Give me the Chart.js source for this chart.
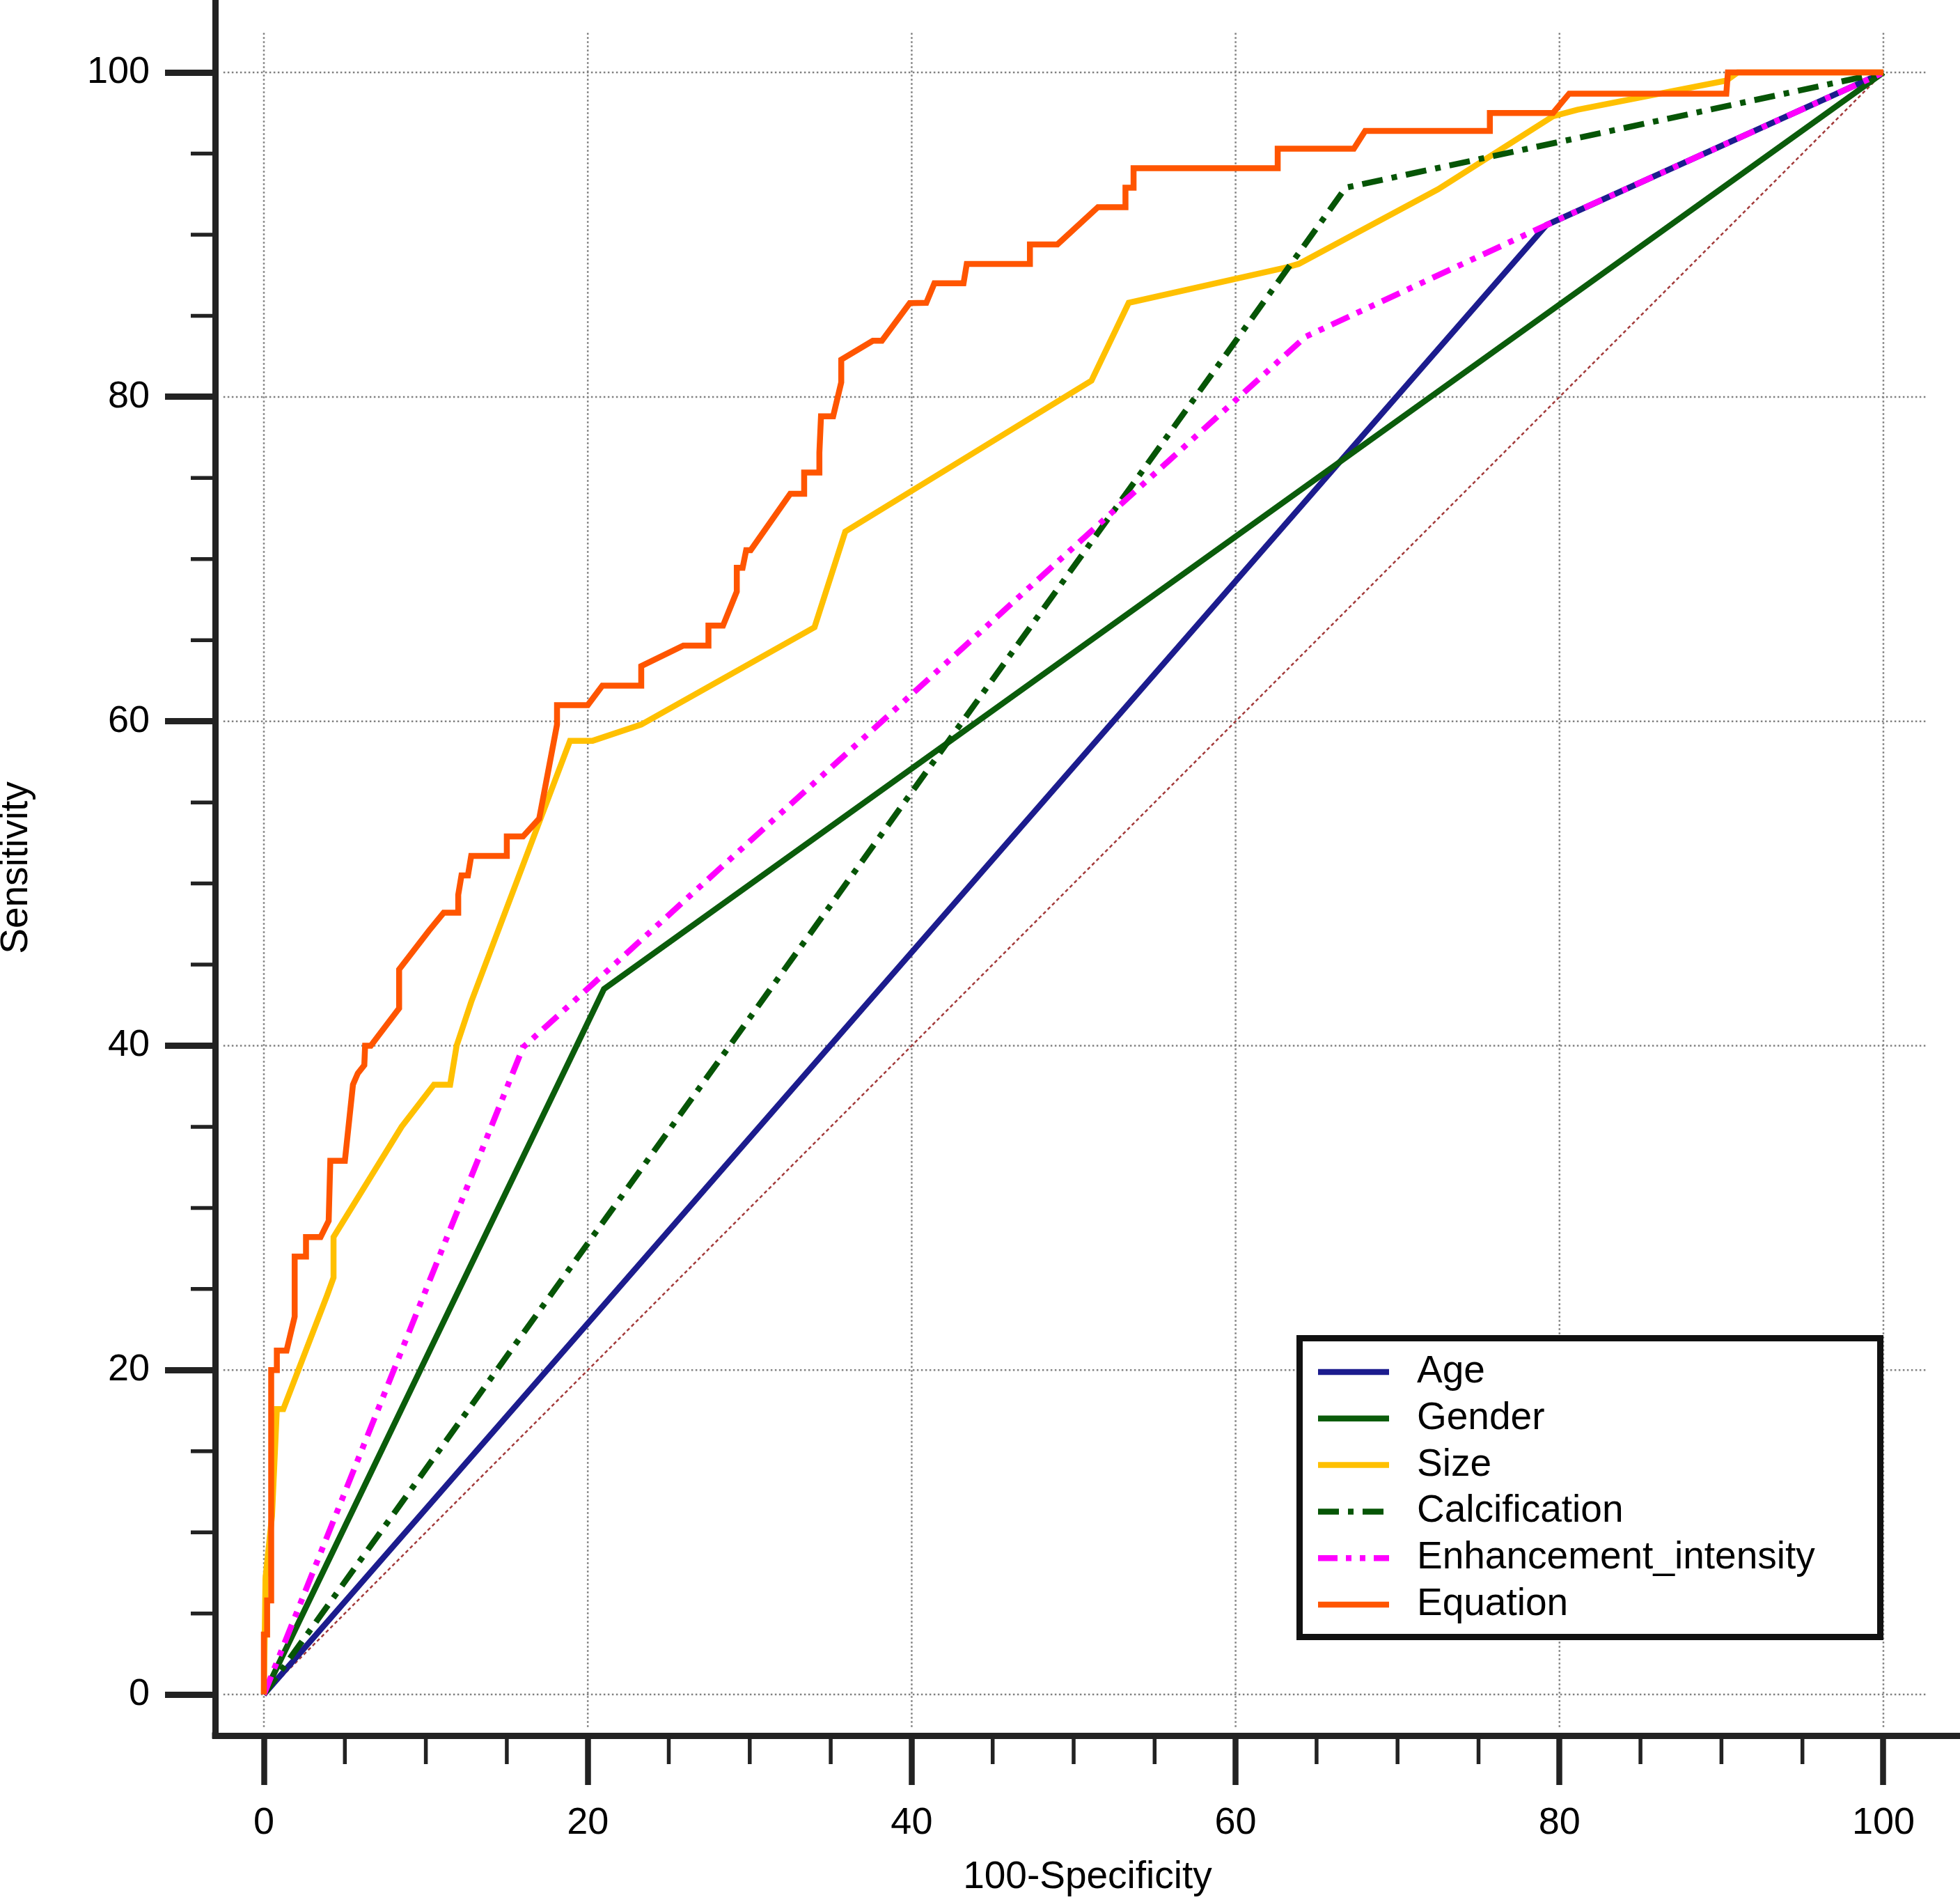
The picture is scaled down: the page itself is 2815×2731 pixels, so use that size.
<!DOCTYPE html>
<html><head><meta charset="utf-8">
<script src="https://cdn.jsdelivr.net/npm/chart.js@4"></script>
<style>html,body{margin:0;padding:0;background:#fff;}canvas{display:block;}</style>
</head><body>
<canvas id="c" width="2815" height="2731" style="width:2815px;height:2731px"></canvas>
<script>
// ---- data ----
const xTickValues = [0, 20, 40, 60, 80, 100];
const yTickValues = [0, 20, 40, 60, 80, 100];
const minorTickValues = [5, 10, 15, 25, 30, 35, 45, 50, 55, 65, 70, 75, 85, 90, 95];
const legendOrder = ['Age', 'Gender', 'Size', 'Calcification', 'Enhancement_intensity', 'Equation'];

const ageX = [0, 79.2, 100];
const ageY = [0, 90.6, 100];

const genderX = [0, 21.0, 100];
const genderY = [0, 43.5, 100];

const sizeX = [0, 0.1, 0.5, 0.8, 1.2, 3.9, 4.3, 4.3, 8.5, 10.5, 11.5, 11.9, 12.8, 18.9, 20.3, 23.3, 34.0, 35.9, 51.1, 53.4, 63.2, 63.9, 72.5, 79.6, 81.1, 90.3, 91.0, 100];
const sizeY = [0, 7.2, 11.0, 17.6, 17.6, 24.6, 25.7, 28.2, 35.0, 37.6, 37.6, 40.0, 42.7, 58.8, 58.8, 59.8, 65.8, 71.7, 81.0, 85.8, 88.0, 88.2, 92.8, 97.3, 97.7, 99.5, 100, 100];

const calcX = [0, 66.8, 100];
const calcY = [0, 92.9, 100];

const enhX = [0, 16.0, 64.3, 79.2, 100];
const enhY = [0, 39.9, 83.7, 90.6, 100];

const equationX = [0, 0, 0.2, 0.2, 0.45, 0.45, 0.8, 0.8, 1.4, 1.9, 1.9, 2.6, 2.6, 3.5, 4.0, 4.1, 5.0, 5.5, 5.8, 6.2, 6.25, 6.6, 8.35, 8.35, 10.2, 11.1, 12.0, 12.0, 12.2, 12.6, 12.8, 15.0, 15.0, 16.0, 17.0, 18.1, 18.1, 20.0, 20.9, 23.3, 23.3, 25.9, 27.45, 27.45, 28.35, 29.2, 29.2, 29.56, 29.78, 30.06, 32.5, 33.36, 33.36, 34.3, 34.3, 34.4, 35.15, 35.65, 35.65, 37.6, 38.16, 39.88, 40.9, 41.4, 43.2, 43.4, 47.3, 47.3, 49.0, 51.5, 53.2, 53.2, 53.7, 53.7, 62.6, 62.6, 67.3, 68.0, 75.7, 75.7, 79.6, 80.6, 90.3, 90.4, 100];
const equationY = [0, 3.7, 3.7, 5.8, 5.8, 20.0, 20.0, 21.2, 21.2, 23.3, 27.0, 27.0, 28.2, 28.2, 29.2, 32.9, 32.9, 37.6, 38.3, 38.8, 40.0, 40.0, 42.3, 44.7, 47.1, 48.2, 48.2, 49.3, 50.5, 50.5, 51.7, 51.7, 52.9, 52.9, 54.0, 59.8, 61.0, 61.0, 62.2, 62.2, 63.4, 64.67, 64.67, 65.9, 65.9, 68.0, 69.46, 69.46, 70.55, 70.55, 74.03, 74.03, 75.34, 75.34, 76.57, 78.8, 78.8, 80.9, 82.3, 83.46, 83.46, 85.78, 85.8, 87.0, 87.0, 88.2, 88.2, 89.4, 89.4, 91.7, 91.7, 92.9, 92.9, 94.1, 94.1, 95.3, 95.3, 96.4, 96.4, 97.5, 97.5, 98.7, 98.7, 100, 100];

const refX = [0, 100];
const refY = [0, 100];

// ---- chart ----
const FONT = '"Liberation Sans", Arial, sans-serif';
const LW = 8.5;
function pts(xs, ys) { return xs.map((x, i) => ({ x: x, y: ys[i] })); }

const datasets = [
  { label: 'Equation', data: pts(equationX, equationY), borderColor: '#ff5500', borderWidth: LW, borderDash: [], order: 1 },
  { label: 'Enhancement_intensity', data: pts(enhX, enhY), borderColor: '#ff00ff', borderWidth: LW, borderDash: [28, 12, 8, 12, 8, 12], order: 2 },
  { label: 'Calcification', data: pts(calcX, calcY), borderColor: '#065506', borderWidth: LW, borderDash: [30, 13, 8, 13], order: 3 },
  { label: 'Size', data: pts(sizeX, sizeY), borderColor: '#ffc000', borderWidth: LW, borderDash: [], order: 4 },
  { label: 'Gender', data: pts(genderX, genderY), borderColor: '#0b5c0b', borderWidth: LW, borderDash: [], order: 5 },
  { label: 'Age', data: pts(ageX, ageY), borderColor: '#1c1c8e', borderWidth: LW, borderDash: [], order: 6 },
  { label: 'reference', data: pts(refX, refY), borderColor: '#a33a3a', borderWidth: 2.5, borderDash: [5, 4], order: 7 }
];

const decor = {
  id: 'decor',
  beforeDatasetsDraw(chart) {
    const { ctx } = chart;
    const x = chart.scales.x, y = chart.scales.y;
    ctx.save();
    ctx.strokeStyle = '#808080';
    ctx.lineWidth = 2.5;
    ctx.setLineDash([2.5, 3.5]);
    const gx0 = x.getPixelForValue(-2.5), gx1 = x.getPixelForValue(102.6);
    const gy0 = y.getPixelForValue(-2.0), gy1 = y.getPixelForValue(102.5);
    yTickValues.forEach(v => {
      const p = y.getPixelForValue(v);
      ctx.beginPath(); ctx.moveTo(gx0, p); ctx.lineTo(gx1, p); ctx.stroke();
    });
    xTickValues.forEach(v => {
      const p = x.getPixelForValue(v);
      ctx.beginPath(); ctx.moveTo(p, gy0); ctx.lineTo(p, gy1); ctx.stroke();
    });
    ctx.restore();
  },
  afterDraw(chart) {
    const { ctx } = chart;
    const x = chart.scales.x, y = chart.scales.y;
    ctx.save();
    // minor ticks
    ctx.strokeStyle = '#222';
    ctx.lineWidth = 5.5;
    ctx.setLineDash([]);
    minorTickValues.forEach(v => {
      const py = y.getPixelForValue(v);
      ctx.beginPath(); ctx.moveTo(y.right - 35, py); ctx.lineTo(y.right, py); ctx.stroke();
      const px = x.getPixelForValue(v);
      ctx.beginPath(); ctx.moveTo(px, x.top); ctx.lineTo(px, x.top + 41); ctx.stroke();
    });
    // axis corner
    ctx.fillStyle = '#222';
    ctx.fillRect(y.right - 4.5, x.top - 4.5, 9, 9);

    // legend
    const bx = 1866.5, by = 1921.5, bw = 834, bh = 429;
    ctx.fillStyle = '#fff';
    ctx.fillRect(bx, by, bw, bh);
    ctx.strokeStyle = '#111';
    ctx.lineWidth = 9;
    ctx.strokeRect(bx, by, bw, bh);
    ctx.font = '55px ' + FONT;
    ctx.textBaseline = 'alphabetic';
    ctx.textAlign = 'left';
    legendOrder.forEach((name, i) => {
      const ds = chart.data.datasets.find(d => d.label === name);
      const cy = 1970 + i * 66.8;
      ctx.strokeStyle = ds.borderColor;
      ctx.lineWidth = LW;
      ctx.lineCap = 'butt';
      ctx.setLineDash(ds.borderDash || []);
      ctx.beginPath(); ctx.moveTo(1893, cy); ctx.lineTo(1995, cy); ctx.stroke();
      ctx.setLineDash([]);
      ctx.fillStyle = '#000';
      ctx.fillText(name, 2035, cy + 15);
    });
    ctx.restore();
  }
};

new Chart(document.getElementById('c'), {
  type: 'line',
  data: { datasets: datasets },
  plugins: [decor],
  options: {
    responsive: false,
    animation: false,
    devicePixelRatio: 1,
    layout: { padding: 0 },
    plugins: { legend: { display: false }, tooltip: { enabled: false } },
    elements: {
      point: { radius: 0, hoverRadius: 0 },
      line: { tension: 0, borderJoinStyle: 'miter', borderCapStyle: 'butt', fill: false }
    },
    scales: {
      x: {
        type: 'linear', position: 'bottom', min: -3.01, max: 104.73,
        afterBuildTicks: s => { s.ticks = xTickValues.map(v => ({ value: v })); },
        afterFit: s => { s.height = 239; s.paddingLeft = 0; s.paddingRight = 0; },
        grid: { display: true, drawOnChartArea: false, drawTicks: true, tickLength: 71, tickWidth: 8.5, tickColor: '#222' },
        border: { display: true, width: 9, color: '#222' },
        ticks: { font: { family: FONT, size: 54 }, color: '#000', padding: 23, maxRotation: 0, autoSkip: false, callback: v => String(v) },
        title: { display: true, text: '100-Specificity', color: '#000', font: { family: FONT, size: 55, lineHeight: 1.2 }, padding: { top: 0, bottom: 2 } }
      },
      y: {
        type: 'linear', position: 'left', min: -2.53, max: 104.47,
        afterBuildTicks: s => { s.ticks = yTickValues.map(v => ({ value: v })); },
        afterFit: s => { s.width = 309; s.paddingTop = 0; s.paddingBottom = 0; },
        grid: { display: true, drawOnChartArea: false, drawTicks: true, tickLength: 72, tickWidth: 9, tickColor: '#222' },
        border: { display: true, width: 9, color: '#222' },
        ticks: { font: { family: FONT, size: 54 }, color: '#000', padding: 22, autoSkip: false, callback: v => String(v) },
        title: { display: true, text: 'Sensitivity', color: '#000', font: { family: FONT, size: 55, lineHeight: 0.85 }, padding: { top: 0, bottom: 0 } }
      }
    }
  }
});
</script>
</body></html>
